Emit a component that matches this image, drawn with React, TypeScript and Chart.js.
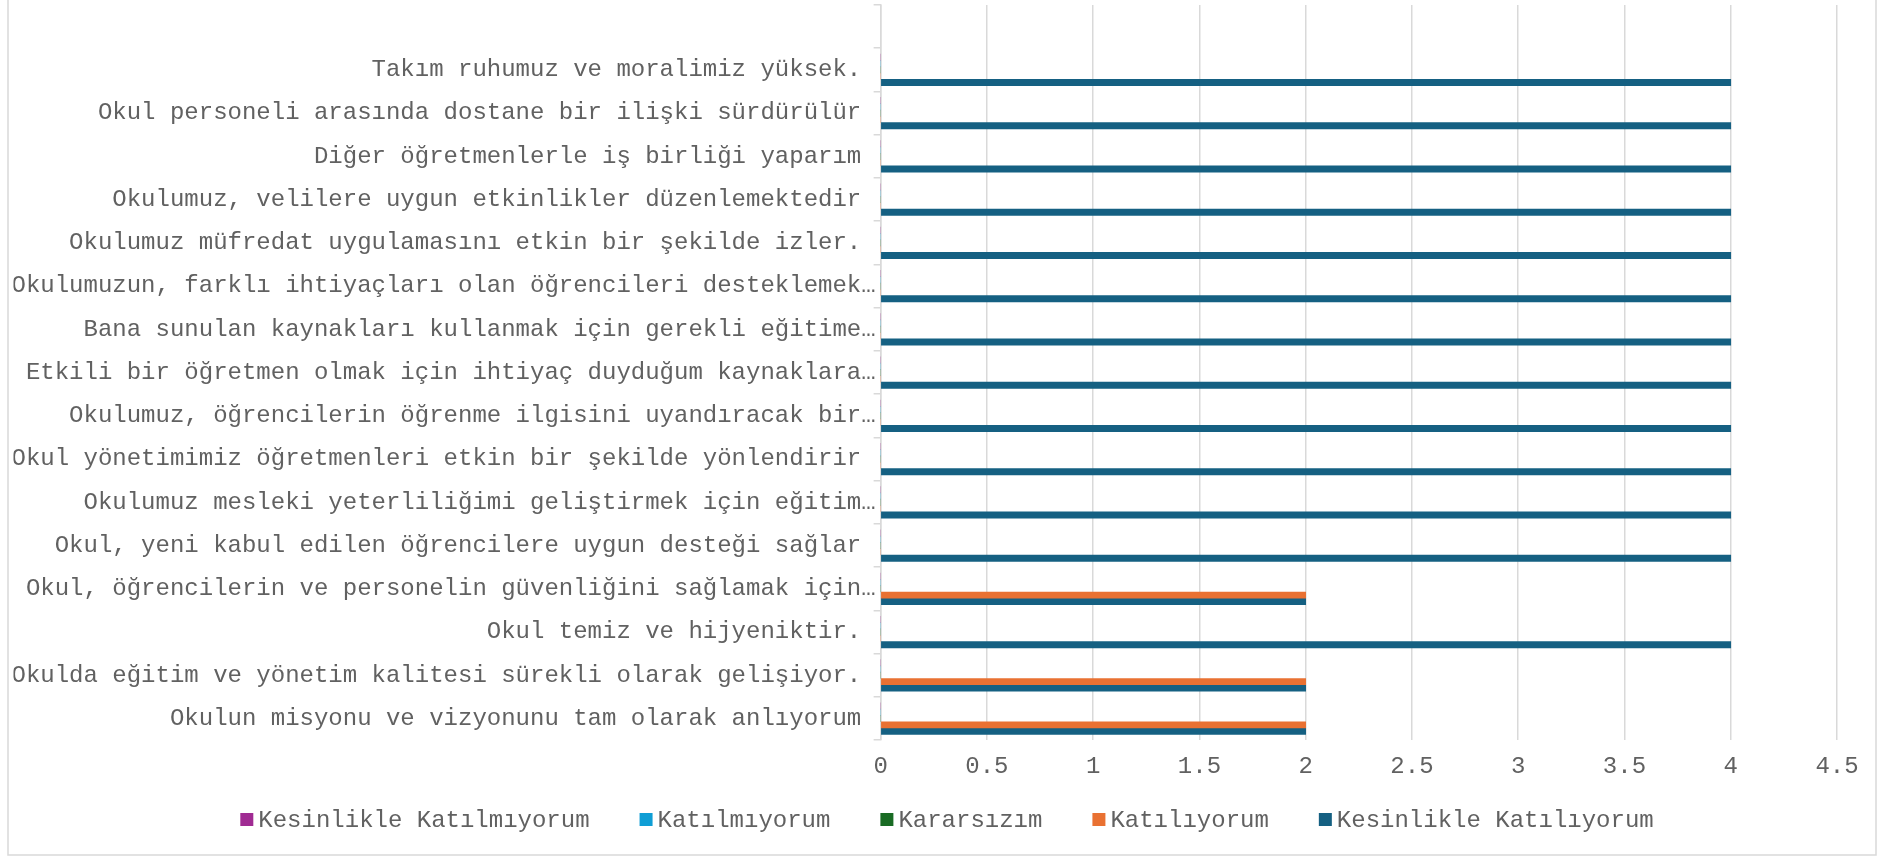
import React, { useEffect, useRef } from "react";
import { Chart, registerables } from "chart.js";

Chart.register(...registerables);

// Categories, top to bottom (first slot is an empty category, as in the reference)
const categories: string[] = [
  "",
  "Takım ruhumuz ve moralimiz yüksek.",
  "Okul personeli arasında dostane bir ilişki sürdürülür",
  "Diğer öğretmenlerle iş birliği yaparım",
  "Okulumuz, velilere uygun etkinlikler düzenlemektedir",
  "Okulumuz müfredat uygulamasını etkin bir şekilde izler.",
  "Okulumuzun, farklı ihtiyaçları olan öğrencileri desteklemek…",
  "Bana sunulan kaynakları kullanmak için gerekli eğitime…",
  "Etkili bir öğretmen olmak için ihtiyaç duyduğum kaynaklara…",
  "Okulumuz, öğrencilerin öğrenme ilgisini uyandıracak bir…",
  "Okul yönetimimiz öğretmenleri etkin bir şekilde yönlendirir",
  "Okulumuz mesleki yeterliliğimi geliştirmek için eğitim…",
  "Okul, yeni kabul edilen öğrencilere uygun desteği sağlar",
  "Okul, öğrencilerin ve personelin güvenliğini sağlamak için…",
  "Okul temiz ve hijyeniktir.",
  "Okulda eğitim ve yönetim kalitesi sürekli olarak gelişiyor.",
  "Okulun misyonu ve vizyonunu tam olarak anlıyorum",
];

const seriesNames: string[] = [
  "Kesinlikle Katılmıyorum",
  "Katılmıyorum",
  "Kararsızım",
  "Katılıyorum",
  "Kesinlikle Katılıyorum",
];

const seriesColors: string[] = ["#A02B93", "#0F9ED5", "#196B24", "#E97132", "#156082"];

const kesinlikleKatilmiyorum: (number | null)[] = [null, 0, 0, 0, 0, 0, 0, 0, 0, 0, 0, 0, 0, 0, 0, 0, 0];
const katilmiyorum: (number | null)[] = [null, 0, 0, 0, 0, 0, 0, 0, 0, 0, 0, 0, 0, 0, 0, 0, 0];
const kararsizim: (number | null)[] = [null, 0, 0, 0, 0, 0, 0, 0, 0, 0, 0, 0, 0, 0, 0, 0, 0];
const katiliyorum: (number | null)[] = [null, 0, 0, 0, 0, 0, 0, 0, 0, 0, 0, 0, 0, 2, 0, 2, 2];
const kesinlikleKatiliyorum: (number | null)[] = [null, 4, 4, 4, 4, 4, 4, 4, 4, 4, 4, 4, 4, 2, 4, 2, 2];

const xTicksMin = 0;
const xTicksMax = 4.5;
const xTickStep = 0.5;

const FONT = '"Courier New", "Liberation Mono", monospace';
const TEXT_COLOR = "#616161";
const GRID_COLOR = "#d9d9d9";

const frameAndLegend = {
  id: "frameAndLegend",
  afterDraw(chart: any) {
    const ctx = chart.ctx as CanvasRenderingContext2D;
    ctx.save();
    // outer frame
    ctx.strokeStyle = GRID_COLOR;
    ctx.lineWidth = 1.5;
    ctx.beginPath();
    ctx.moveTo(8, -2);
    ctx.lineTo(8, 855);
    ctx.lineTo(1876, 855);
    ctx.lineTo(1876, -2);
    ctx.stroke();

    // legend
    ctx.font = `24px ${FONT}`;
    ctx.textBaseline = "middle";
    ctx.textAlign = "left";
    const box = 13;
    const gap = 5;
    const spacing = 50;
    const ds = chart.data.datasets;
    const widths = ds.map((d: any) => box + gap + ctx.measureText(d.label).width);
    const total = widths.reduce((a: number, b: number) => a + b, 0) + spacing * (ds.length - 1);
    let x = 947 - total / 2;
    const cy = 819.5;
    ds.forEach((d: any, i: number) => {
      ctx.fillStyle = d.backgroundColor;
      ctx.fillRect(x, cy - box / 2, box, box);
      ctx.fillStyle = TEXT_COLOR;
      ctx.fillText(d.label, x + box + gap, cy + 1);
      x += widths[i] + spacing;
    });
    ctx.restore();
  },
};

export default function App() {
  const canvasRef = useRef<HTMLCanvasElement | null>(null);

  useEffect(() => {
    if (!canvasRef.current) return;
    const values = [kesinlikleKatilmiyorum, katilmiyorum, kararsizim, katiliyorum, kesinlikleKatiliyorum];
    const chart = new Chart(canvasRef.current, {
      type: "bar",
      data: {
        labels: categories,
        datasets: seriesNames.map((name, i) => ({
          label: name,
          data: values[i],
          backgroundColor: seriesColors[i],
          borderWidth: 0,
          barThickness: 6.3,
        })),
      },
      options: {
        indexAxis: "y",
        animation: false,
        responsive: false,
        devicePixelRatio: 1,
        locale: "en-US",
        layout: { padding: { left: 13.5, right: 48, top: 5, bottom: 63 } },
        plugins: {
          legend: { display: false },
          tooltip: { enabled: false },
        },
        scales: {
          x: {
            type: "linear",
            min: xTicksMin,
            max: xTicksMax,
            ticks: {
              stepSize: xTickStep,
              color: TEXT_COLOR,
              font: { family: FONT, size: 24 },
              padding: 12,
              callback: (v: any) => String(v),
            },
            grid: { color: GRID_COLOR, lineWidth: 1.5, drawTicks: false },
            border: { display: false },
          },
          y: {
            type: "category",
            ticks: {
              autoSkip: false,
              color: TEXT_COLOR,
              font: { family: FONT, size: 24, lineHeight: 0.2 },
              padding: -2,
              callback: function (this: any, v: any) {
                const l = this.getLabelForValue(v) as string;
                return l === "" || l.endsWith("…") ? l : l + " ";
              },
            },
            grid: {
              drawOnChartArea: false,
              drawTicks: true,
              tickLength: 7,
              color: GRID_COLOR,
              lineWidth: 1.5,
            },
            border: { display: true, color: GRID_COLOR, width: 1.5 },
          },
        },
      },
      plugins: [frameAndLegend],
    });
    return () => chart.destroy();
  }, []);

  return (
    <div style={{ position: "fixed", left: 0, top: 0, width: 1885, height: 856, background: "#fff" }}>
      <canvas ref={canvasRef} width={1885} height={856} style={{ width: 1885, height: 856, display: "block" }} />
    </div>
  );
}
